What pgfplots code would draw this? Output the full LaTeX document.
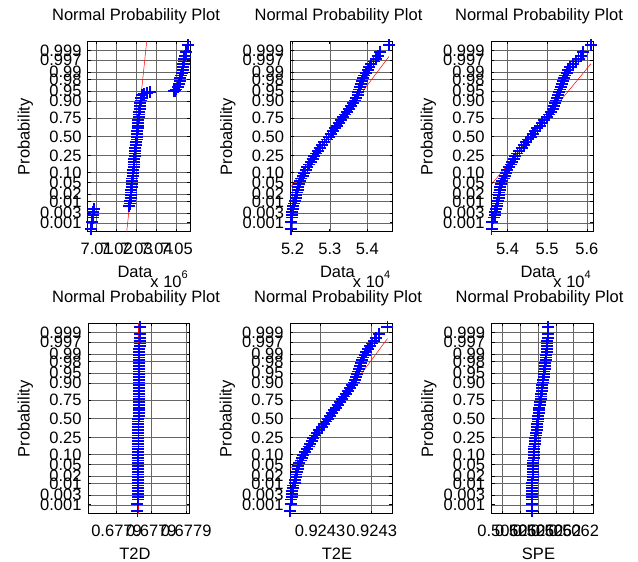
\documentclass[border=0pt]{standalone}
\usepackage{fontspec}
\setmainfont{Liberation Sans}
\usepackage{pgfplots}
\pgfplotsset{compat=1.18}

\definecolor{mblue}{RGB}{0,0,255}
\definecolor{mred}{RGB}{255,0,0}
\definecolor{mmid}{RGB}{80,90,30}

\newcommand{\mult}[1]{\node[anchor=base east, inner sep=0pt, font=\fontsize{16.5}{18}\selectfont]
  at (rel axis cs:1,0) [yshift=-56pt, xshift=-2pt] {x 10\raisebox{9pt}{\fontsize{11}{11}\selectfont #1}};}

\pgfplotsset{
  npp/.style={
    scale only axis, width=102pt, height=190.5pt,
    anchor=south west,
    ymin=-3.42, ymax=3.42,
    ytick={-3.0902,-2.7478,-2.3263,-2.0537,-1.6449,-1.2816,-0.6745,0,0.6745,1.2816,1.6449,2.0537,2.3263,2.7478,3.0902},
    yticklabels={0.001,0.003,0.01,0.02,0.05,0.10,0.25,0.50,0.75,0.90,0.95,0.98,0.99,0.997,0.999},
    grid=major,
    major grid style={black!60, line width=0.6pt},
    tick align=inside,
    major tick length=3pt,
    tick style={black, line width=0.8pt},
    axis line style={black, line width=1pt},
    font=\fontsize{16.5}{18}\selectfont,
    yticklabel style={anchor=east, inner sep=0pt, xshift=-6.3pt},
    xticklabel style={anchor=base, inner sep=0pt, yshift=-22.7pt},
    title style={at={(axis description cs:0.5,1)}, anchor=base, yshift=15pt, xshift=-3pt},
    xlabel style={at={(axis description cs:0.5,0)}, anchor=base, inner sep=0pt, yshift=-46pt, xshift=-4pt},
    ylabel style={at={(axis description cs:-0.613,0.5)}, anchor=center},
    title={Normal Probability Plot},
    ylabel={Probability},
    scaled x ticks=false,
  },
  pts/.style={only marks, mark=+, color=mblue, mark size=6pt, mark options={line width=1.8pt}},
  fitext/.style={mred, line width=0.5pt, no marks},
  fitmid/.style={mmid, line width=0.9pt, no marks},
}

\begin{document}
\begin{tikzpicture}[x=1pt,y=1pt]
\path[use as bounding box] (0,0) rectangle (638,562);

% ---- top left
\begin{axis}[npp, at={(88pt,330pt)},
  xmin=7.00565, xmax=7.05665,
  xtick={7.01,7.02,7.03,7.04,7.05}, xticklabels={7.01,7.02,7.03,7.04,7.05},
  xlabel={Data},
  after end axis/.code={\mult{6}}]
\addplot[pts] coordinates {
(7.0072,-3.30) (7.0078,-3.05) (7.0080,-2.90) (7.0083,-2.80) (7.0081,-2.70) (7.0085,-2.60)
(7.0263,-2.50) (7.0266,-2.40) (7.0268,-2.30) (7.0270,-2.20) (7.0270,-2.10) (7.0272,-2.00)
(7.0273,-1.90) (7.0275,-1.80) (7.0276,-1.70) (7.0277,-1.60) (7.0279,-1.50) (7.0281,-1.40)
(7.0283,-1.30) (7.0284,-1.20) (7.0285,-1.10) (7.0286,-1.00) (7.0287,-0.90) (7.0288,-0.80)
(7.0290,-0.70) (7.0291,-0.60) (7.0293,-0.50) (7.0294,-0.40) (7.0296,-0.30) (7.0298,-0.20)
(7.0300,-0.10) (7.0301,0.00) (7.0302,0.10) (7.0304,0.20) (7.0305,0.30) (7.0306,0.40)
(7.0307,0.50) (7.0308,0.60) (7.0310,0.70) (7.0312,0.80) (7.0313,0.90) (7.0315,1.00)
(7.0317,1.10) (7.0319,1.20) (7.0321,1.30) (7.0324,1.40) (7.0327,1.50) (7.0335,1.55)
(7.0350,1.58) (7.0365,1.60)
(7.0485,1.63) (7.0492,1.66) (7.0498,1.70) (7.0505,1.80) (7.0510,1.90) (7.0515,2.00)
(7.0518,2.10) (7.0522,2.20) (7.0526,2.30) (7.0530,2.40) (7.0532,2.50) (7.0534,2.60)
(7.0536,2.70) (7.0538,2.80) (7.0541,2.90) (7.0546,3.05) (7.0555,3.30)};
\addplot[fitext] coordinates {(7.02474,-3.6) (7.03526,3.6)};
\addplot[fitmid] coordinates {(7.02901,-0.6745) (7.03099,0.6745)};
\end{axis}

% ---- top middle
\begin{axis}[npp, at={(290.5pt,330pt)},
  xmin=5.1946, xmax=5.4676,
  xtick={5.2,5.3,5.4}, xticklabels={5.2,5.3,5.4},
  xlabel={Data},
  after end axis/.code={\mult{4}}]
\addplot[pts] coordinates {
(5.1950,-3.30) (5.1962,-3.05) (5.1978,-2.90) (5.1990,-2.80) (5.1995,-2.70) (5.2010,-2.60)
(5.2025,-2.50) (5.2040,-2.40) (5.2070,-2.30) (5.2085,-2.20) (5.2100,-2.10) (5.2110,-2.00)
(5.2135,-1.90) (5.2150,-1.80) (5.2170,-1.70) (5.2200,-1.60) (5.2235,-1.50) (5.2270,-1.40)
(5.2310,-1.30) (5.2350,-1.20) (5.2400,-1.10) (5.2450,-1.00) (5.2490,-0.90) (5.2535,-0.80)
(5.2580,-0.70) (5.2630,-0.60) (5.2685,-0.50) (5.2740,-0.40) (5.2800,-0.30) (5.2855,-0.20)
(5.2910,-0.10) (5.2965,0.00) (5.3020,0.10) (5.3075,0.20) (5.3130,0.30) (5.3185,0.40)
(5.3240,0.50) (5.3300,0.60) (5.3355,0.70) (5.3410,0.80) (5.3465,0.90) (5.3520,1.00)
(5.3570,1.10) (5.3620,1.20) (5.3670,1.30) (5.3710,1.40) (5.3740,1.50) (5.3765,1.60)
(5.3785,1.70) (5.3805,1.80) (5.3830,1.90) (5.3855,2.00) (5.3880,2.10) (5.3910,2.20)
(5.3960,2.30) (5.4010,2.40) (5.4060,2.50) (5.4110,2.60) (5.4170,2.70) (5.4230,2.80)
(5.4280,2.90) (5.4350,3.05) (5.4580,3.30)};
\addplot[fitext] coordinates {(5.1950,-1.809) (5.4580,2.879)};
\addplot[fitmid] coordinates {(5.2587,-0.6745) (5.3343,0.6745)};
\end{axis}

% ---- top right
\begin{axis}[npp, at={(491pt,330pt)},
  xmin=5.3585, xmax=5.6153,
  xtick={5.4,5.5,5.6}, xticklabels={5.4,5.5,5.6},
  xlabel={Data},
  after end axis/.code={\mult{4}}]
\addplot[pts] coordinates {
(5.3600,-3.30) (5.3620,-3.05) (5.3650,-2.90) (5.3680,-2.80) (5.3695,-2.70) (5.3710,-2.60)
(5.3730,-2.50) (5.3745,-2.40) (5.3765,-2.30) (5.3775,-2.20) (5.3785,-2.10) (5.3795,-2.00)
(5.3805,-1.90) (5.3815,-1.80) (5.3840,-1.70) (5.3870,-1.60) (5.3905,-1.50) (5.3935,-1.40)
(5.3960,-1.30) (5.3990,-1.20) (5.4030,-1.10) (5.4080,-1.00) (5.4125,-0.90) (5.4165,-0.80)
(5.4200,-0.70) (5.4250,-0.60) (5.4300,-0.50) (5.4355,-0.40) (5.4410,-0.30) (5.4470,-0.20)
(5.4525,-0.10) (5.4585,0.00) (5.4640,0.10) (5.4700,0.20) (5.4755,0.30) (5.4815,0.40)
(5.4870,0.50) (5.4930,0.60) (5.4990,0.70) (5.5050,0.80) (5.5100,0.90) (5.5140,1.00)
(5.5170,1.10) (5.5200,1.20) (5.5230,1.30) (5.5255,1.40) (5.5280,1.50) (5.5300,1.60)
(5.5320,1.70) (5.5340,1.80) (5.5365,1.90) (5.5390,2.00) (5.5415,2.10) (5.5440,2.20)
(5.5490,2.30) (5.5530,2.40) (5.5580,2.50) (5.5640,2.60) (5.5720,2.70) (5.5790,2.80)
(5.5850,2.90) (5.5900,3.05) (5.6100,3.30)};
\addplot[fitext] coordinates {(5.3600,-1.704) (5.6100,2.621)};
\addplot[fitmid] coordinates {(5.4195,-0.6745) (5.4975,0.6745)};
\end{axis}

% ---- bottom left (T2D)
\begin{axis}[npp, at={(88pt,48pt)},
  xmin=0.18, xmax=3.109,
  xtick={1,2,3}, xticklabels={0.6779,0.6779,0.6779},
  xlabel={T2D}]
\addplot[pts] coordinates {
(1.60,-3.30) (1.60,-3.05) (1.61,-2.90) (1.61,-2.80) (1.61,-2.70) (1.61,-2.60)
(1.62,-2.50) (1.62,-2.40) (1.62,-2.30) (1.62,-2.20) (1.62,-2.10) (1.62,-2.00)
(1.62,-1.90) (1.62,-1.80) (1.62,-1.70) (1.62,-1.60) (1.62,-1.50) (1.62,-1.40)
(1.62,-1.30) (1.63,-1.20) (1.63,-1.10) (1.63,-1.00) (1.63,-0.90) (1.63,-0.80)
(1.63,-0.70) (1.63,-0.60) (1.63,-0.50) (1.63,-0.40) (1.63,-0.30) (1.63,-0.20)
(1.63,-0.10) (1.63,0.00) (1.64,0.10) (1.64,0.20) (1.64,0.30) (1.64,0.40)
(1.64,0.50) (1.64,0.60) (1.64,0.70) (1.64,0.80) (1.64,0.90) (1.64,1.00)
(1.64,1.10) (1.64,1.20) (1.65,1.30) (1.65,1.40) (1.65,1.50) (1.65,1.60)
(1.65,1.70) (1.65,1.80) (1.65,1.90) (1.65,2.00) (1.65,2.10) (1.65,2.20)
(1.65,2.30) (1.65,2.40) (1.65,2.50) (1.66,2.60) (1.66,2.70) (1.66,2.80)
(1.67,2.90) (1.67,3.05) (1.68,3.30)};
\addplot[fitext] coordinates {(1.635,-3.6) (1.635,3.6)};
\addplot[fitmid] coordinates {(1.635,-0.6745) (1.635,0.6745)};
\end{axis}

% ---- bottom middle (T2E)
\begin{axis}[npp, at={(290pt,48pt)},
  xmin=0.4197, xmax=2.3926,
  xtick={1,2}, xticklabels={0.9243,0.9243},
  xlabel={T2E}]
\addplot[pts] coordinates {
(0.423,-3.30) (0.431,-3.05) (0.443,-2.90) (0.451,-2.80) (0.455,-2.70) (0.466,-2.60)
(0.476,-2.50) (0.487,-2.40) (0.509,-2.30) (0.519,-2.20) (0.530,-2.10) (0.537,-2.00)
(0.555,-1.90) (0.566,-1.80) (0.580,-1.70) (0.602,-1.60) (0.627,-1.50) (0.652,-1.40)
(0.680,-1.30) (0.709,-1.20) (0.745,-1.10) (0.781,-1.00) (0.809,-0.90) (0.841,-0.80)
(0.874,-0.70) (0.909,-0.60) (0.949,-0.50) (0.988,-0.40) (1.031,-0.30) (1.070,-0.20)
(1.110,-0.10) (1.149,0.00) (1.188,0.10) (1.228,0.20) (1.267,0.30) (1.307,0.40)
(1.346,0.50) (1.389,0.60) (1.428,0.70) (1.468,0.80) (1.507,0.90) (1.546,1.00)
(1.582,1.10) (1.618,1.20) (1.654,1.30) (1.682,1.40) (1.704,1.50) (1.722,1.60)
(1.736,1.70) (1.750,1.80) (1.768,1.90) (1.786,2.00) (1.804,2.10) (1.825,2.20)
(1.861,2.30) (1.897,2.40) (1.933,2.50) (1.969,2.60) (2.011,2.70) (2.054,2.80)
(2.090,2.90) (2.140,3.05) (2.305,3.30)};
\addplot[fitext] coordinates {(0.423,-1.809) (2.305,2.879)};
\addplot[fitmid] coordinates {(0.878,-0.6745) (1.420,0.6745)};
\end{axis}

% ---- bottom right (SPE)
\begin{axis}[npp, at={(491.5pt,48pt)},
  xmin=0.375, xmax=6.108,
  xtick={1,2,3,4,5}, xticklabels={0.5062,0.5062,0.5062,0.5062,0.5062},
  xlabel={SPE}]
\addplot[pts] coordinates {
(2.63,-3.30) (2.64,-3.05) (2.64,-2.90) (2.65,-2.80) (2.65,-2.70) (2.66,-2.60)
(2.66,-2.50) (2.67,-2.40) (2.67,-2.30) (2.68,-2.20) (2.68,-2.10) (2.69,-2.00)
(2.70,-1.90) (2.70,-1.80) (2.71,-1.70) (2.72,-1.60) (2.73,-1.50) (2.74,-1.40)
(2.76,-1.30) (2.77,-1.20) (2.78,-1.10) (2.79,-1.00) (2.81,-0.90) (2.82,-0.80)
(2.84,-0.70) (2.86,-0.60) (2.88,-0.50) (2.91,-0.40) (2.93,-0.30) (2.95,-0.20)
(2.97,-0.10) (2.99,0.00) (3.01,0.10) (3.03,0.20) (3.05,0.30) (3.07,0.40)
(3.10,0.50) (3.12,0.60) (3.14,0.70) (3.16,0.80) (3.18,0.90) (3.20,1.00)
(3.22,1.10) (3.24,1.20) (3.26,1.30) (3.28,1.40) (3.30,1.50) (3.32,1.60)
(3.34,1.70) (3.36,1.80) (3.38,1.90) (3.40,2.00) (3.42,2.10) (3.44,2.20)
(3.45,2.30) (3.47,2.40) (3.48,2.50) (3.50,2.60) (3.51,2.70) (3.52,2.80)
(3.53,2.90) (3.53,3.05) (3.55,3.30)};
\addplot[fitext] coordinates {(2.63,-1.674) (3.55,2.603)};
\addplot[fitmid] coordinates {(2.845,-0.6745) (3.135,0.6745)};
\end{axis}
\end{tikzpicture}
\end{document}
